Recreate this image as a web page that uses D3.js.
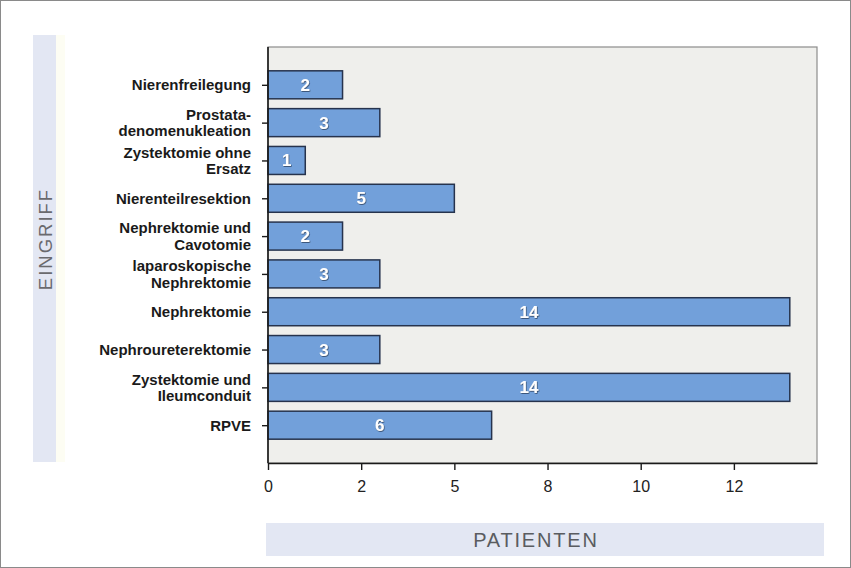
<!DOCTYPE html>
<html>
<head>
<meta charset="utf-8">
<script src="https://cdn.jsdelivr.net/npm/d3@7"></script>
<style>
  html, body { margin: 0; padding: 0; background: #fff; }
  svg { display: block; font-family: "Liberation Sans", Arial, sans-serif; }
</style>
</head>
<body>
<svg id="chart" width="851" height="568"></svg>
<script>
// Eingriffe (each entry: label lines) and patient counts
const categories = [
  ["Nierenfreilegung"],
  ["Prostata-", "denomenukleation"],
  ["Zystektomie ohne", "Ersatz"],
  ["Nierenteilresektion"],
  ["Nephrektomie und", "Cavotomie"],
  ["laparoskopische", "Nephrektomie"],
  ["Nephrektomie"],
  ["Nephroureterektomie"],
  ["Zystektomie und", "Ileumconduit"],
  ["RPVE"]
];
const patients = [2, 3, 1, 5, 2, 3, 14, 3, 14, 6];
const tickValues = [0, 2.5, 5, 7.5, 10, 12.5];
const tickLabels = ["0", "2", "5", "8", "10", "12"];
const xTitle = "PATIENTEN";
const yTitle = "EINGRIFF";

const svg = d3.select("#chart");
const W = 851, H = 568;
const plot = { left: 268, right: 817, top: 47, bottom: 463 };

const keys = categories.map(c => c.join(" "));
const x = d3.scaleLinear().domain([0, 14.73]).range([plot.left, plot.right]);
const y = d3.scalePoint().domain(keys).range([plot.top, plot.bottom]).padding(1);
const barH = 28;

// soft shadow for the value labels
const defs = svg.append("defs");
const f = defs.append("filter").attr("id", "txtShadow").attr("x", "-30%").attr("y", "-30%")
  .attr("width", "160%").attr("height", "160%");
f.append("feDropShadow").attr("dx", 0.6).attr("dy", 0.8).attr("stdDeviation", 0.7)
  .attr("flood-color", "#2c3a55").attr("flood-opacity", 0.9);

// outer frame
svg.append("rect").attr("x", 0.5).attr("y", 0.5).attr("width", W - 1).attr("height", H - 1)
  .attr("fill", "#fff").attr("stroke", "#8a8a8a").attr("stroke-width", 1);

// title bands
svg.append("rect").attr("x", 33).attr("y", 35).attr("width", 23).attr("height", 427).attr("fill", "#e3e7f3");
svg.append("rect").attr("x", 56).attr("y", 35).attr("width", 9).attr("height", 427).attr("fill", "#fdfdf3");
svg.append("rect").attr("x", 266).attr("y", 523).attr("width", 558).attr("height", 33).attr("fill", "#e3e7f3");

// axis titles (letter-spaced; centred by measured width)
const ySp = 2;
const yT = svg.append("text")
  .attr("text-anchor", "start")
  .attr("fill", "#6a6a6e").attr("font-size", 18.5).attr("letter-spacing", ySp)
  .text(yTitle);
const yLen = yT.node().getComputedTextLength() - ySp;
yT.attr("transform", `translate(51.5,${240 + yLen / 2}) rotate(-90)`);

const xSp = 1.8;
const xT = svg.append("text")
  .attr("text-anchor", "start")
  .attr("fill", "#5a5c60").attr("font-size", 20).attr("letter-spacing", xSp)
  .text(xTitle);
const xLen = xT.node().getComputedTextLength() - xSp;
xT.attr("x", 535 - xLen / 2).attr("y", 547);

// plot area
svg.append("rect")
  .attr("x", plot.left).attr("y", plot.top)
  .attr("width", plot.right - plot.left).attr("height", plot.bottom - plot.top)
  .attr("fill", "#efefec").attr("stroke", "#8c8c8c").attr("stroke-width", 1.2);

// bars
const rows = keys.map((k, i) => ({ key: k, lines: categories[i], value: patients[i] }));
svg.append("g").selectAll("rect").data(rows).join("rect")
  .attr("x", x(0))
  .attr("y", d => y(d.key) - barH / 2)
  .attr("width", d => x(d.value) - x(0))
  .attr("height", barH)
  .attr("fill", "#72a0da")
  .attr("stroke", "#26334d").attr("stroke-width", 1.5);

// value labels
svg.append("g").selectAll("text").data(rows).join("text")
  .attr("x", d => (x(0) + x(d.value)) / 2)
  .attr("y", d => y(d.key) + 6)
  .attr("text-anchor", "middle")
  .attr("font-size", 17).attr("font-weight", "bold")
  .attr("fill", "#fff")
  .attr("filter", "url(#txtShadow)")
  .text(d => d.value);

// x axis
const xAxis = d3.axisBottom(x)
  .tickValues(tickValues)
  .tickFormat((d, i) => tickLabels[i])
  .tickSize(7).tickSizeOuter(0);
const gx = svg.append("g").attr("transform", `translate(0,${plot.bottom})`).call(xAxis);
gx.select(".domain").attr("stroke", "#1a1a1a").attr("stroke-width", 1.6);
gx.selectAll(".tick line").attr("stroke", "#1a1a1a").attr("stroke-width", 1.4);
gx.selectAll(".tick text").attr("font-size", 16).attr("fill", "#222")
  .attr("font-family", "Liberation Sans, Arial, sans-serif").attr("dy", "1.2em");

// y axis
const yAxis = d3.axisLeft(y).tickSize(6).tickSizeOuter(0).tickFormat("");
const gy = svg.append("g").attr("transform", `translate(${plot.left},0)`).call(yAxis);
gy.select(".domain").attr("stroke", "#1a1a1a").attr("stroke-width", 1.6)
  .attr("d", `M0,${plot.top}V${plot.bottom}`);
gy.selectAll(".tick line").attr("stroke", "#1a1a1a").attr("stroke-width", 1.4);

// category labels (one or two lines, right aligned)
const lab = svg.append("g").selectAll("text").data(rows).join("text")
  .attr("x", 251)
  .attr("text-anchor", "end")
  .attr("font-size", 15).attr("font-weight", "bold").attr("fill", "#1a1a1a");
lab.each(function (d) {
  const t = d3.select(this);
  const n = d.lines.length;
  d.lines.forEach((line, j) => {
    t.append("tspan")
      .attr("x", 251)
      .attr("y", y(d.key) + 5.5 + (j - (n - 1) / 2) * 16.5)
      .text(line);
  });
});
</script>
</body>
</html>
